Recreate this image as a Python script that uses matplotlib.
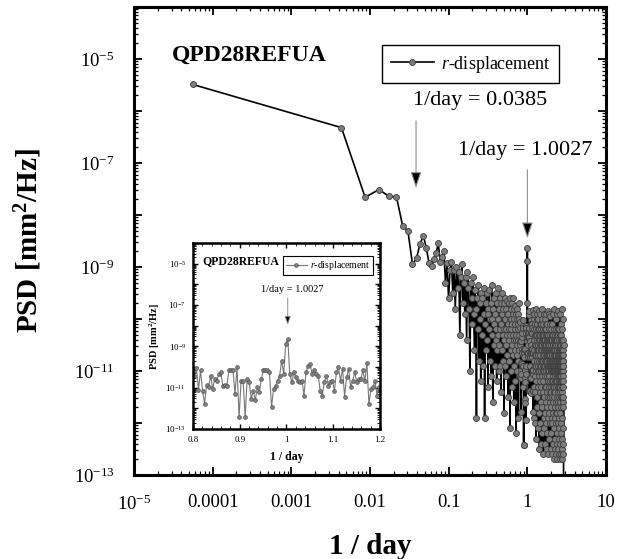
import numpy as np
import matplotlib
matplotlib.use("Agg")
import matplotlib.pyplot as plt
from matplotlib.ticker import FixedLocator, FuncFormatter, LogLocator, NullFormatter, MultipleLocator

plt.rcParams["font.family"] = ["Liberation Serif", "DejaVu Serif"]
plt.rcParams["mathtext.fontset"] = "custom"
plt.rcParams["mathtext.rm"] = "Liberation Serif"
plt.rcParams["mathtext.it"] = "Liberation Serif:italic"
plt.rcParams["mathtext.bf"] = "Liberation Serif:bold"

# lowest plotted frequency and bin spacing of the spectrum [1/day]
F_FIRST = 5.6e-5
DF = 0.0043407

# log10 PSD [mm^2/Hz]
psd_first = -5.49
# bins k = 1..184  (f up to ~0.8)
psd_low = [
    -6.32, -7.66, -7.51, -7.64, -7.65, -8.21, -8.31, -8.95, -8.83,
    -8.55, -8.40, -8.64, -8.93, -8.99, -8.85, -8.74, -8.53, -8.90, -8.80, -8.69,
    -9.3, -8.93, -9.6, -9.05, -8.9, -9.5, -9.05, -9.8, -9.0, -9.4,
    -9.1, -10.3, -9.2, -8.95, -9.7, -9.3, -9.9, -9.2, -10.4, -9.1,
    -9.4, -9.8, -11.0, -9.3, -9.6, -10.1, -9.2, -9.9, -10.6, -9.45,
    -9.8, -11.9, -9.6, -10.2, -9.35, -10.8, -9.7, -10.0, -11.2, -9.5,
    -10.3, -9.6, -10.9, -9.9, -9.4, -11.9, -10.1, -9.7, -10.6, -9.5,
    -10.4, -9.8, -11.3, -9.9, -10.2, -9.45, -10.8, -10.0, -9.7, -11.1,
    -10.3, -9.35, -10.0, -11.6, -9.8, -10.5, -9.6, -10.1, -10.9, -9.9,
    -10.4, -9.5, -10.2, -11.2, -9.7, -10.6, -10.0, -9.4, -10.3, -11.0,
    -9.8, -10.5, -9.6, -10.9, -10.2, -9.7, -11.4, -10.1, -9.9, -10.6,
    -9.5, -10.3, -10.8, -9.8, -10.2, -11.8, -9.7, -10.4, -10.0, -9.6,
    -10.9, -10.2, -9.8, -10.5, -11.1, -9.9, -10.3, -9.65, -10.7, -10.1,
    -9.9, -11.5, -10.4, -9.7, -10.2, -10.8, -10.0, -9.6, -12.1, -10.3,
    -10.0, -10.6, -9.8, -11.0, -10.2, -9.7, -10.5, -11.3, -10.1, -9.9,
    -10.7, -10.3, -9.6, -10.0, -11.6, -10.4, -9.8, -10.9, -10.2, -10.6,
    -9.75, -11.2, -10.1, -10.4, -9.9, -12.2, -10.3, -10.0, -10.7, -9.8,
    -10.5, -11.0, -10.2, -9.9, -10.8, -10.1, -11.9, -10.4, -9.7, -10.6,
    -10.3, -11.1, -10.0, -10.5,
]
# bins k = 185..276  (0.8 - 1.2, the inset window)
psd_mid = [
    -10.42, -10.05, -11.11, -10.17, -11.14, -11.78, -10.85, -10.98, -10.42, -11.06,
    -10.58, -10.66, -10.34, -10.26, -10.90, -10.87, -10.90, -10.17, -10.14, -10.17,
    -11.30, -10.01, -12.43, -10.66, -10.66, -12.43, -10.58, -10.74, -11.54, -11.14,
    -11.62, -10.98, -11.22, -10.58, -10.14, -10.17, -10.17, -10.26, -11.95, -11.06,
    -10.90, -10.66, -10.42, -9.69, -10.34, -8.89, -8.64,
    -10.34, -10.74, -10.26, -10.50, -10.66, -10.74, -10.66, -11.38, -10.26, -9.93,
    -9.85, -10.34, -10.17, -10.34, -10.42, -11.14, -11.38, -10.74, -10.42, -10.90,
    -10.74, -10.66, -11.14, -10.26, -10.01, -10.66, -10.09, -11.43, -10.50, -10.09,
    -10.98, -10.66, -10.26, -10.74, -10.58, -10.58, -10.17, -10.66, -9.82, -11.78,
    -11.06, -10.98, -10.66, -11.38, -10.98,
]
# bins k = 277..666  (1.2 - 2.89)
psd_high = [
    -10.6, -10.2, -11.3, -10.0, -10.8, -11.9, -10.4, -9.9, -10.7, -11.1, -10.3, -12.0, -10.5, -10.1, -10.9,
    -11.4, -10.2, -10.7, -9.8, -11.0, -10.5, -12.3, -10.3, -10.9, -11.2, -10.0, -10.6, -11.7, -10.4, -10.1,
    -10.8, -11.5, -10.3, -9.9, -11.0, -10.6, -12.1, -10.2, -10.9, -10.5, -11.3, -10.0, -10.7, -11.8, -10.4,
    -10.2, -11.1, -10.6, -12.5, -10.3, -10.8, -9.85, -11.0, -10.5, -11.4, -10.1, -10.9, -12.0, -10.4, -10.7,
    -11.2, -10.3, -9.9, -10.8, -11.6, -10.5, -10.2, -11.0, -12.4, -10.6, -10.1, -10.9, -11.3, -10.4, -10.0,
    -11.7, -10.6, -10.3, -11.1, -10.8, -9.8, -10.5, -12.2, -10.9, -10.4, -11.4, -10.2, -10.7, -11.0, -12.6,
    -10.3, -10.8, -11.2, -10.1, -10.6, -11.9, -10.4, -9.9, -11.0, -10.7, -11.5, -10.3, -10.9, -12.1, -10.5,
    -10.2, -11.3, -10.8, -10.4, -11.8, -10.6, -10.0, -11.1, -12.4, -10.5, -10.9, -10.3, -11.6, -10.7, -10.1,
    -11.0, -10.5, -12.0, -10.8, -9.9, -11.3, -10.6, -10.2, -11.7, -10.9, -10.4, -12.5, -10.7, -11.1, -10.3,
    -10.8, -11.4, -10.1, -10.6, -12.2, -10.9, -10.4, -11.0, -9.85, -11.5, -10.7, -10.3, -11.9, -10.6, -11.2,
    -10.5, -12.6, -10.9, -10.2, -11.3, -10.7, -11.0, -10.4, -11.8, -10.6, -9.9, -11.1, -12.3, -10.8, -10.5,
    -11.4, -10.3, -10.9, -11.6, -10.6, -10.1, -12.0, -10.8, -11.2, -10.4, -11.5, -10.7, -9.95, -11.0, -12.5,
    -10.6, -11.3, -10.9, -10.2, -11.7, -10.5, -11.0, -12.2, -10.8, -10.4, -11.4, -10.7, -11.9, -10.3, -10.9,
    -11.2, -10.6, -12.6, -10.8, -10.1, -11.0, -11.5, -10.7, -10.4, -12.0, -10.9, -11.3, -10.5, -9.9, -11.1,
    -11.8, -10.6, -11.0, -10.3, -12.4, -10.8, -11.2, -10.5, -11.6, -10.9, -10.2, -11.4, -12.7, -10.7, -11.0,
    -10.4, -11.3, -10.8, -12.1, -10.6, -11.0, -9.8, -11.5, -10.9, -10.5, -11.9, -10.7, -11.2, -12.5, -10.3,
    -11.0, -10.6, -11.7, -10.9, -10.4, -12.3, -10.8, -11.1, -10.5, -11.4, -10.2, -11.8, -10.7, -11.0, -12.6,
    -10.5, -11.2, -10.9, -10.0, -11.6, -10.7, -12.0, -10.4, -11.3, -10.8, -11.0, -12.4, -10.6, -9.9, -11.1,
    -11.5, -10.8, -10.3, -12.2, -10.9, -11.0, -10.6, -11.8, -10.4, -11.2, -12.7, -10.7, -10.2, -11.4, -10.9,
    -11.1, -12.0, -10.5, -10.8, -11.6, -10.3, -11.0, -12.5, -10.7, -9.85, -11.3, -10.9, -11.7, -10.6, -11.2,
    -12.3, -10.8, -10.4, -11.1, -11.5, -10.7, -12.6, -10.9, -10.2, -11.3, -10.6, -11.9, -10.8, -11.0, -12.1,
    -10.5, -11.4, -10.9, -9.9, -11.2, -10.7, -12.4, -11.0, -10.6, -11.6, -10.3, -11.1, -12.7, -10.8, -10.5,
    -11.3, -10.9, -11.8, -10.4, -11.0, -12.2, -10.7, -10.1, -11.5, -10.8, -11.2, -12.6, -10.6, -11.0, -10.3,
    -11.7, -10.9, -12.0, -10.5, -11.1, -10.8, -9.8, -11.4, -10.6, -12.5, -11.0, -10.7, -11.3, -10.4, -11.9,
    -10.8, -12.3, -11.0, -10.6, -11.5, -10.2, -11.2, -12.7, -10.9, -10.5, -11.6, -10.8, -11.0, -12.1, -10.4,
    -11.3, -10.9, -11.7, -10.6, -12.4, -10.8, -11.1, -10.0, -11.5, -10.7, -12.6, -10.9, -11.2, -10.5, -13.6,
]

PEAK_1 = 0.0385
PEAK_2 = 1.0027

log_psd = np.array([psd_first] + psd_low + psd_mid + psd_high)
k = np.arange(1, len(log_psd))
freq = np.concatenate([[F_FIRST], k * DF])
psd = 10.0 ** log_psd

fig = plt.figure(figsize=(6.22, 5.59), dpi=100)
ax = fig.add_axes([0.2154, 0.1503, 0.7588, 0.8372])

ax.plot(freq, psd, "-o", color="black", lw=1.2, ms=4.3,
        mfc="#7c7c7c", mec="#3c3c3c", mew=0.6, label="$r$-displacement")
ax.set_xscale("log")
ax.set_yscale("log")
ax.set_xlim(1e-5, 10)
ax.set_ylim(1e-13, 1e-4)


def xfmt(v, pos):
    e = int(round(np.log10(v)))
    if e <= -5:
        return r"$10^{%d}$" % e
    return "%g" % v


def yfmt(v, pos):
    e = int(round(np.log10(v)))
    return r"$10^{%d}$" % e if e % 2 else ""


ax.xaxis.set_major_locator(FixedLocator(10.0 ** np.arange(-5, 2)))
ax.xaxis.set_major_formatter(FuncFormatter(xfmt))
ax.xaxis.set_minor_locator(LogLocator(base=10, subs=np.arange(2, 10), numticks=20))
ax.xaxis.set_minor_formatter(NullFormatter())
ax.yaxis.set_major_locator(FixedLocator(10.0 ** np.arange(-13, -3)))
ax.yaxis.set_major_formatter(FuncFormatter(yfmt))
ax.yaxis.set_minor_locator(LogLocator(base=10, subs=np.arange(2, 10), numticks=20))
ax.yaxis.set_minor_formatter(NullFormatter())
ax.tick_params(which="both", direction="in", top=True, right=True)
ax.tick_params(which="major", length=6, width=1.3, labelsize=13.5)
ax.tick_params(axis="x", which="major", pad=14)
ax.tick_params(axis="y", which="major", pad=14)
ax.tick_params(which="minor", length=3, width=0.9)
for s in ax.spines.values():
    s.set_linewidth(2.2)

ax.set_xlabel("1 / day", fontsize=21, fontweight="bold")
ax.set_ylabel(r"PSD [mm$^{\mathbf{2}}$/Hz]", fontsize=21, fontweight="bold")
ax.xaxis.set_label_coords(0.5, -0.125)
ax.yaxis.set_label_coords(-0.19, 0.5)

ax.text(0.245, 0.897, "QPD28REFUA", transform=ax.transAxes, fontsize=17,
        fontweight="bold", ha="center", va="center")
leg = ax.legend(loc="upper right", bbox_to_anchor=(0.92, 0.937), fontsize=13,
                fancybox=False, edgecolor="black", framealpha=1,
                handlelength=2.4, borderpad=0.45, handletextpad=0.4)
leg.get_frame().set_linewidth(1.0)

arrow = dict(arrowstyle="-|>,head_length=0.65,head_width=0.22", color="0.55",
             fc="black", lw=0.8, mutation_scale=15, shrinkA=0, shrinkB=0)
ax.text(0.733, 0.80, "1/day = 0.0385", transform=ax.transAxes, fontsize=16,
        ha="center", va="center")
ax.annotate("", xy=(PEAK_1, 10 ** -7.48), xytext=(PEAK_1, 10 ** -6.19),
            arrowprops=arrow)
ax.text(0.828, 0.694, "1/day = 1.0027", transform=ax.transAxes, fontsize=16,
        ha="center", va="center")
ax.annotate("", xy=(PEAK_2, 10 ** -8.45), xytext=(PEAK_2, 10 ** -7.13),
            arrowprops=arrow)

# inset: zoom around one cycle per day
axi = fig.add_axes([0.3103, 0.2326, 0.3006, 0.3327])
sel = (freq >= 0.8) & (freq <= 1.2)
axi.plot(freq[sel], psd[sel], "-o", color="#777777", lw=0.8, ms=2.8,
         mfc="#808080", mec="#454545", mew=0.4, label="$r$-displacement")
axi.set_yscale("log")
axi.set_xlim(0.8, 1.2)
axi.set_ylim(1e-13, 1e-4)
axi.xaxis.set_major_locator(MultipleLocator(0.1))
axi.xaxis.set_major_formatter(FuncFormatter(lambda v, p: "%g" % round(v, 2)))
axi.xaxis.set_minor_locator(MultipleLocator(0.02))
axi.yaxis.set_major_locator(FixedLocator(10.0 ** np.arange(-13, -3)))
axi.yaxis.set_major_formatter(FuncFormatter(yfmt))
axi.yaxis.set_minor_locator(LogLocator(base=10, subs=np.arange(2, 10), numticks=20))
axi.yaxis.set_minor_formatter(NullFormatter())
axi.tick_params(which="both", direction="in", top=True, right=True)
axi.tick_params(which="major", length=3.5, width=1.0, labelsize=6.5)
axi.tick_params(axis="y", which="major", pad=5)
axi.tick_params(axis="x", which="major", pad=5)
axi.tick_params(which="minor", length=2, width=0.6)
for s in axi.spines.values():
    s.set_linewidth(1.8)
axi.set_xlabel("1 / day", fontsize=8.5, fontweight="bold")
axi.set_ylabel(r"PSD [mm$^{\mathbf{2}}$/Hz]", fontsize=7.5, fontweight="bold")
axi.xaxis.set_label_coords(0.5, -0.12)
axi.yaxis.set_label_coords(-0.165, 0.5)
axi.text(0.255, 0.90, "QPD28REFUA", transform=axi.transAxes, fontsize=8.5,
         fontweight="bold", ha="center", va="center")
legi = axi.legend(loc="upper right", bbox_to_anchor=(0.99, 0.955), fontsize=7,
                  fancybox=False, edgecolor="black", framealpha=1,
                  handlelength=2.2, borderpad=0.3, handletextpad=0.3)
legi.get_frame().set_linewidth(0.8)
axi.text(0.53, 0.75, "1/day = 1.0027", transform=axi.transAxes, fontsize=7.5,
         ha="center", va="center")
arrow_i = dict(arrowstyle="-|>,head_length=0.5,head_width=0.18", color="0.5",
               fc="black", lw=0.6, mutation_scale=10, shrinkA=0, shrinkB=0)
axi.annotate("", xy=(PEAK_2, 10 ** -7.95), xytext=(PEAK_2, 10 ** -6.65),
             arrowprops=arrow_i)

fig.savefig("out.png", dpi=100)
